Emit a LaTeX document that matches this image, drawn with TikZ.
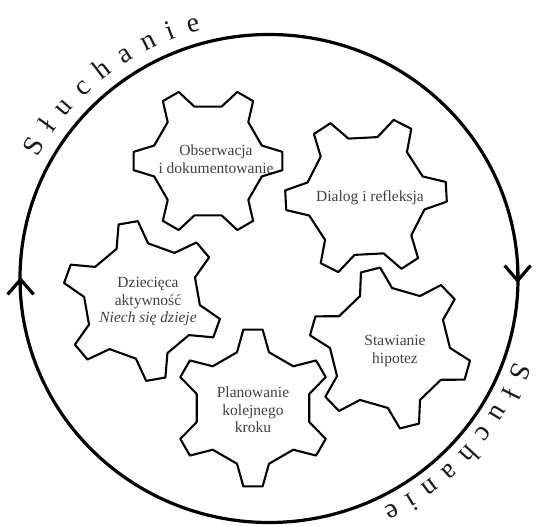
\documentclass[tikz,border=0pt]{standalone}
\usepackage{fontspec}
\setmainfont{Liberation Serif}
\usetikzlibrary{arrows.meta,decorations.text,calc}
\newcommand{\ringfont}{\fontsize{28}{32}\selectfont\color{black!90}}
\newcommand{\gearshape}[5]{%
  \begin{scope}[shift={(#1,#2)}]
    \draw[gearline] (#5-16:#3)
      \foreach \k in {0,...,5}{
        -- (#5+60*\k-16:#3) -- (#5+60*\k-7:#4) -- (#5+60*\k+7:#4) -- (#5+60*\k+16:#3)
      } -- cycle;
  \end{scope}}
\begin{document}
\begin{tikzpicture}[x=1pt,y=1pt,
  gearline/.style={line width=2.1pt, line join=round},
  geartext/.style={align=center, font=\fontsize{15.5}{17.5}\selectfont, text=black!75},
  ring/.style={line width=3.2pt},
  barb/.style={ring, -{Straight Barb[length=15pt,width=26pt]}}]
\useasboundingbox (0,0) rectangle (538,525);
\coordinate (c) at (269,246.5);
% outer ring
\draw[ring] (c) ellipse [x radius=249, y radius=244];
\coordinate (la) at (20.6,228);
\coordinate (lb) at (20.6,248);
\coordinate (ra) at (517.6,262);
\coordinate (rb) at (517.6,242);
\draw[barb] (la) -- (lb);
\draw[barb] (ra) -- (rb);
% ring labels
\path[decorate, decoration={text along path, text={|\ringfont|Słuchanie}, text align={fit to path}}]
  ($(c)+(152:262 and 257)$) arc[start angle=152, end angle=105, x radius=262, y radius=257];
\path[decorate, decoration={text along path, text={|\ringfont|Słuchanie}, text align={fit to path}}]
  ($(c)+(-19:260 and 255)$) arc[start angle=-19, end angle=-64, x radius=260, y radius=255];
% gears
\gearshape{208}{364}{56}{75}{0}
\gearshape{366}{329}{60}{81}{3}
\gearshape{142}{224}{58}{80}{-20}
\gearshape{390}{177}{60}{81}{-16}
\gearshape{253}{117}{58}{79}{30}
% gear texts
\node[geartext] (obs) at (216,366) {Obserwacja\\i dokumentowanie};
\node[geartext] (dia) at (370,327) {Dialog i refleksja};
\node[geartext] (dzi) at (148,223) {Dziecięca\\aktywność\\\textit{Niech się dzieje}};
\node[geartext] (sta) at (395,174) {Stawianie\\hipotez};
\node[geartext] (pla) at (253,115) {Planowanie\\kolejnego\\kroku};
\end{tikzpicture}
\end{document}
